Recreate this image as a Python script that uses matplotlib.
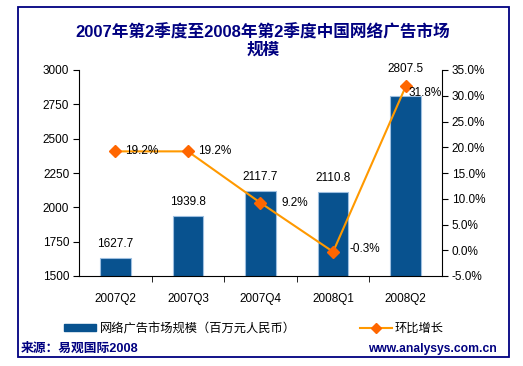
import matplotlib
matplotlib.use("Agg")
import matplotlib.pyplot as plt
from matplotlib.patches import Rectangle
from matplotlib.lines import Line2D
from matplotlib.patches import Patch

plt.rcParams['font.family'] = ['Liberation Sans', 'Noto Sans CJK SC', 'DejaVu Sans']

categories = ["2007Q2", "2007Q3", "2007Q4", "2008Q1", "2008Q2"]
market_size = [1627.7, 1939.8, 2117.7, 2110.8, 2807.5]
growth = [19.2, 19.2, 9.2, -0.3, 31.8]
growth_labels = ["19.2%", "19.2%", "9.2%", "-0.3%", "31.8%"]
bar_label_text = ["1627.7", "1939.8", "2117.7", "2110.8", "2807.5"]

title = "2007年第2季度至2008年第2季度中国网络广告市场\n规模"
bar_legend = "网络广告市场规模（百万元人民币）"
line_legend = "环比增长"
source = "来源：易观国际2008"
site = "www.analysys.com.cn"

W, H = 523, 366
fig = plt.figure(figsize=(W / 100, H / 100), dpi=100)
navy = "#000080"
bar_color = "#08528F"
line_color = "#FF9900"
marker_color = "#FF6600"

# outer border
fig.add_artist(Rectangle((18 / W, 1 - 357 / H), (509 - 18) / W, (357 - 7) / H,
                         transform=fig.transFigure, fill=False, edgecolor=navy, linewidth=1.3))

ax = fig.add_axes([79 / W, 1 - 276 / H, (442 - 79) / W, (276 - 70) / H])
x = list(range(len(categories)))
bars = ax.bar(x, market_size, width=0.42, color=bar_color, edgecolor="#9DBFE0", linewidth=0.8, zorder=2)
ax.set_ylim(1500, 3000)
ax.set_xlim(-0.5, len(categories) - 0.5)
ax.set_yticks([1500, 1750, 2000, 2250, 2500, 2750, 3000])
ax.set_xticks(x)
ax.set_xticklabels(categories, fontsize=8.5)
ax.set_xticks([i + 0.5 for i in x[:-1]], minor=True)
ax.tick_params(axis='x', which='major', length=0, pad=12)
ax.tick_params(axis='x', which='minor', length=4, direction='out')
ax.tick_params(axis='y', labelsize=8.5, length=4, direction='out', pad=3)
for s in ["top", "right"]:
    ax.spines[s].set_visible(False)
ax.spines["left"].set_linewidth(0.8)
ax.spines["bottom"].set_linewidth(0.8)

bar_offsets = [14, 14, 14, 14, 27]
for xi, v, lab, off in zip(x, market_size, bar_label_text, bar_offsets):
    ax.annotate(lab, (xi, v), xytext=(0, off * 0.72), textcoords="offset points",
                ha="center", va="center", fontsize=8.5)

ax2 = ax.twinx()
ax2.set_ylim(-5, 35)
ax2.set_yticks([-5, 0, 5, 10, 15, 20, 25, 30, 35])
ax2.set_yticklabels([f"{t:.1f}%" for t in [-5, 0, 5, 10, 15, 20, 25, 30, 35]])
ax2.tick_params(axis='y', labelsize=8.5, length=4, direction='out', pad=3)
for s in ["top", "left", "bottom"]:
    ax2.spines[s].set_visible(False)
ax2.spines["right"].set_linewidth(0.8)
ax2.plot(x, growth, color=line_color, linewidth=1.5, marker="D", markersize=6,
         markerfacecolor=marker_color, markeredgecolor=marker_color, zorder=3)
pct_offsets = [(7, 0), (7, 0), (15, 0), (12, 2), (2, -5)]
for xi, v, lab, (dx, dy) in zip(x, growth, growth_labels, pct_offsets):
    ax2.annotate(lab, (xi, v), xytext=(dx, dy), textcoords="offset points",
                 ha="left", va="center", fontsize=8.5)

fig.text(263 / W, 1 - 41 / H, title, ha="center", va="center", fontsize=12,
         fontweight="bold", color=navy, linespacing=1.15)

h1 = Patch(facecolor=bar_color, edgecolor=bar_color)
leg1 = fig.legend([h1], [bar_legend], loc="center left", bbox_to_anchor=(64 / W, 1 - 329 / H),
                  frameon=False, fontsize=8.8, handlelength=2.6, handleheight=0.5,
                  handletextpad=0.3, borderpad=0, borderaxespad=0)
h2 = Line2D([], [], color=line_color, linewidth=1.5, marker="D", markersize=5,
            markerfacecolor=marker_color, markeredgecolor=marker_color)
leg2 = fig.legend([h2], [line_legend], loc="center left", bbox_to_anchor=(360 / W, 1 - 329 / H),
                  frameon=False, fontsize=8.8, handlelength=2.6, handletextpad=0.2,
                  borderpad=0, borderaxespad=0)

fig.text(21 / W, 1 - 349 / H, source, ha="left", va="center", fontsize=9.2,
         fontweight="bold", color=navy)
fig.text(497 / W, 1 - 349 / H, site, ha="right", va="center", fontsize=8.7,
         fontweight="bold", color=navy)

fig.savefig("out.png", dpi=100)
